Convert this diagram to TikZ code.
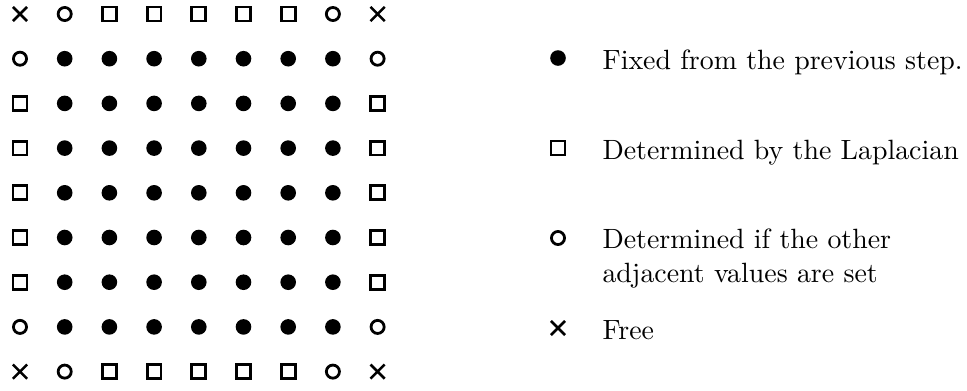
\documentclass[tikz,border=0pt]{standalone}
\usepackage{amsmath, amssymb}
\usetikzlibrary{positioning, shapes.misc}

\begin{document}
\begin{tikzpicture}[
                x=0.3588pt,
                y=-0.3588pt,
                fixed/.style={circle, fill, inner sep=0, minimum size=5.6pt},
                laplace/.style={rectangle, draw, line width=1pt, inner sep=0, minimum size=5pt},
                adjacent/.style={circle, draw, line width=1pt, inner sep=0, minimum size=4.7pt},
                free/.style={cross out, draw, line width=0.9pt, inner sep=0, minimum size=4.2pt},
                kind0/.style={fixed},
                kind1/.style={laplace},
                kind2/.style={adjacent},
                kind3/.style={free},
                legendtext/.style={anchor=base west, align=left, inner sep=0}
            ]
            \useasboundingbox (0,0) rectangle (967,390);
            % the 9x9 grid of points
            \foreach \i in {1,...,9} {
                \foreach \j in {1,...,9} {
                    \pgfmathtruncatemacro\ei{(\i==1)||(\i==9)}
                    \pgfmathtruncatemacro\ej{(\j==1)||(\j==9)}
                    \pgfmathtruncatemacro\ni{(\i==2)||(\i==8)}
                    \pgfmathtruncatemacro\nj{(\j==2)||(\j==8)}
                    \pgfmathtruncatemacro\kind{(\ei && \ej) ? 3 : (((\ei && \nj) || (\ej && \ni)) ? 2 : ((\ei || \ej) ? 1 : 0))}
                    \node[kind\kind] (p-\i-\j) at ({20+44.7*(\i-1)}, {14+44.7*(\j-1)}) {};
                }
            }
            % legend
            \node[fixed] (lfixed) at (558,58) {};
            \node[legendtext] (tfixed) at (602,69) {Fixed from the previous step.};
            \node[laplace] (llaplace) at (558,148) {};
            \node[legendtext] (tlaplace) at (602,159) {Determined by the Laplacian};
            \node[adjacent] (ladjacent) at (558,238) {};
            \node[legendtext] (tadjacent) at (602,282) {Determined if the other\\adjacent values are set};
            \node[free] (lfree) at (558,328) {};
            \node[legendtext] (tfree) at (602,339) {Free};
\end{tikzpicture}
\end{document}
